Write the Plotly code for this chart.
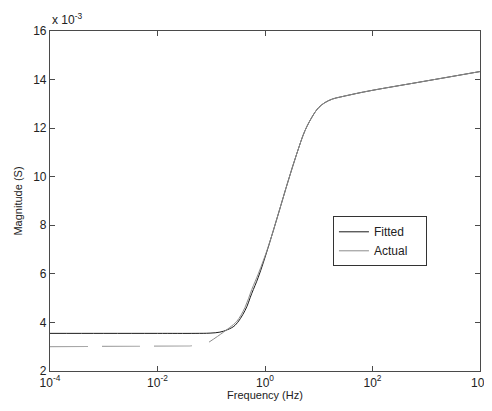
import plotly.graph_objects as go

# Frequency (Hz) and magnitude values (in units of 1e-3 S)
fit_freq = [1e-4, 1e-3, 1e-2, 0.05, 0.095, 0.145, 0.2, 0.277, 0.425, 0.566, 0.75, 1.15, 1.77, 2.71, 3.89, 5.55, 7.94, 10, 13, 18, 25, 40, 59, 120, 871, 10000]
fit_mag = [3.55, 3.55, 3.55, 3.55, 3.56, 3.6, 3.7, 3.88, 4.49, 5.19, 5.86, 7.10, 8.47, 9.84, 10.94, 11.90, 12.55, 12.85, 13.05, 13.2, 13.28, 13.38, 13.46, 13.59, 13.92, 14.33]

act_low_freq = [1e-4, 1e-3, 1e-2, 0.04, 0.068]
act_low_mag = [3.0, 3.0, 3.0, 3.03, 3.09]

act_freq = [0.091, 0.13, 0.22, 0.3, 0.425, 0.566, 0.75, 1.15, 1.77, 2.71, 3.89, 5.55, 7.94, 10, 13, 18, 25, 40, 59, 120, 871, 10000]
act_mag = [3.19, 3.42, 3.79, 4.05, 4.62, 5.35, 6.0, 7.12, 8.47, 9.84, 10.94, 11.90, 12.55, 12.85, 13.05, 13.2, 13.28, 13.38, 13.46, 13.59, 13.92, 14.33]

series_names = ["Fitted", "Actual"]

x_tickvals = [1e-4, 1e-2, 1, 1e2, 1e4]
x_ticktext = ["10<sup>-4</sup>", "10<sup>-2</sup>", "10<sup>0</sup>", "10<sup>2</sup>", "10<sup>4</sup>"]
y_tickvals = [2, 4, 6, 8, 10, 12, 14, 16]

pad = "\u00a0" * 4

fig = go.Figure()
fig.add_trace(go.Scatter(x=act_low_freq, y=act_low_mag, mode="lines", showlegend=False,
                         line=dict(color="#a8a8a8", width=1.2, dash="38px,14px")))
fig.add_trace(go.Scatter(x=fit_freq, y=fit_mag, mode="lines", name=series_names[0] + pad,
                         line=dict(color="#1a1a1a", width=1, shape="spline", smoothing=1)))
fig.add_trace(go.Scatter(x=act_freq, y=act_mag, mode="lines", name=series_names[1] + pad,
                         line=dict(color="#8c8c8c", width=1, shape="spline", smoothing=1)))

axis_common = dict(showline=True, linecolor="#4a4a4a", linewidth=1.2, mirror="ticks",
                   ticks="inside", ticklen=5, tickcolor="#4a4a4a", showgrid=False, zeroline=False,
                   automargin=False,
                   tickfont=dict(family="Liberation Sans, Arial", size=12, color="#222"))

fig.update_xaxes(type="log", range=[-4, 4], tickvals=x_tickvals, ticktext=x_ticktext,
                 title=dict(text="Frequency (Hz)", font=dict(family="Liberation Sans, Arial", size=11, color="#222"), standoff=2),
                 **axis_common)
fig.update_yaxes(range=[2, 16], tickvals=y_tickvals,
                 title=dict(text="Magnitude (S)", font=dict(family="Liberation Sans, Arial", size=11, color="#222"), standoff=8),
                 **axis_common)

fig.add_annotation(xref="paper", yref="paper", x=0, y=1, xanchor="left", yanchor="bottom",
                   text="x 10<sup>-3</sup>", showarrow=False, yshift=2,
                   font=dict(family="Liberation Sans, Arial", size=12, color="#222"))

fig.update_layout(
    width=484, height=403,
    margin=dict(l=42, r=12, t=23, b=40),
    paper_bgcolor="white", plot_bgcolor="white",
    legend=dict(x=0.658, y=0.455, xanchor="left", yanchor="top",
                bgcolor="white", bordercolor="#333", borderwidth=1,
                font=dict(family="Liberation Sans, Arial", size=12, color="#222"),
                tracegroupgap=0, itemwidth=30),
)

fig.write_html("out.html")
